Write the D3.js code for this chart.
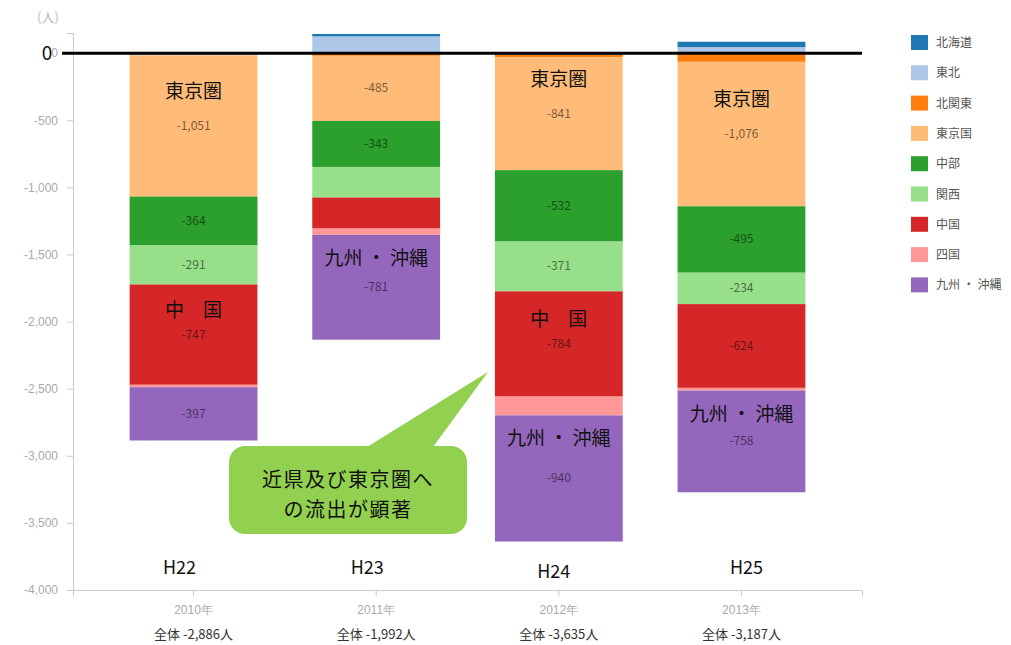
<!DOCTYPE html>
<html>
<head>
<meta charset="utf-8">
<script src="https://cdn.jsdelivr.net/npm/d3@7"></script>
<style>
  body { margin: 0; background: #fff; }
  svg { font-family: "Noto Sans CJK JP", "Noto Sans", sans-serif; }
  .axis path, .axis line { stroke: #ccc; }
  .axis text { fill: #aaa; font-size: 12px; }
</style>
</head>
<body>
<div id="chart"></div>
<script>
// data
const years = ["2010年", "2011年", "2012年", "2013年"];
const eras = ["H22", "H23", "H24", "H25"];
const totals = [-2886, -1992, -3635, -3187];
const regions = ["北海道", "東北", "北関東", "東京圏", "中部", "関西", "中国", "四国", "九州・沖縄"];
const hokkaido = [-10, 18, -12, 40];
const tohoku = [-6, 125, 4, 45];
const kitaKanto = [-2, -20, -19, -65];
const tokyoArea = [-1051, -485, -841, -1076];
const chubu = [-364, -343, -532, -495];
const kansai = [-291, -228, -371, -234];
const chugoku = [-747, -231, -784, -624];
const shikoku = [-18, -47, -140, -20];
const kyushu = [-397, -781, -940, -758];
const yTicks = [0, -500, -1000, -1500, -2000, -2500, -3000, -3500, -4000];
const hiddenLabels = [["2011年", "関西"], ["2011年", "中国"]];
// overlay notes: [year, region, text]
const notes = [
  ["2010年", "東京圏", "東京圏"], ["2012年", "東京圏", "東京圏"], ["2013年", "東京圏", "東京圏"],
  ["2010年", "中国", "中　国"], ["2012年", "中国", "中　国"],
  ["2011年", "九州・沖縄", "九州・沖縄"], ["2012年", "九州・沖縄", "九州・沖縄"], ["2013年", "九州・沖縄", "九州・沖縄"]
];
const calloutLines = ["近県及び東京圏へ", "の流出が顕著"];

const series = [hokkaido, tohoku, kitaKanto, tokyoArea, chubu, kansai, chugoku, shikoku, kyushu];
const colors = ["#1f77b4", "#aec7e8", "#ff7f0e", "#ffbb78", "#2ca02c", "#98df8a", "#d62728", "#ff9896", "#9467bd"];

let rows = years.map((y, i) => {
    let r = {year: y};
    regions.forEach((k, j) => r[k] = series[j][i]);
    return r;
});

let fmt = d => d3.format(",")(d).replace("\u2212", "-");

let width = 1011, height = 645;
let svg = d3.select("#chart").append("svg")
    .attr("width", width).attr("height", height);

let x = d3.scaleBand().domain(years).range([73, 862])
    .paddingInner(0.3).paddingOuter(0.31);
let y = d3.scaleLinear().domain([-4000, 150]).range([590, 33]);
let color = d3.scaleOrdinal().domain(regions).range(colors);

// negatives stack downward in key order, positives upward in reverse order
let negStack = d3.stack().keys(regions)
    .value((d, k) => Math.min(0, d[k]))
    .offset(d3.stackOffsetDiverging)(rows);
let posStack = d3.stack().keys(regions.slice().reverse())
    .value((d, k) => Math.max(0, d[k]))
    .offset(d3.stackOffsetDiverging)(rows);

// axes
svg.append("g").attr("class", "axis")
    .attr("transform", "translate(73,0)")
    .call(d3.axisLeft(y).tickValues(yTicks).tickSize(6).tickPadding(9).tickFormat(fmt));
svg.append("g").attr("class", "axis")
    .attr("transform", "translate(0,590)")
    .call(d3.axisBottom(x).tickSize(6).tickPadding(9));

svg.append("text").attr("x", 48).attr("y", 22)
    .attr("text-anchor", "middle").attr("fill", "#bbb").attr("font-size", 13)
    .text("(人)");

let bars = svg.append("g");
[negStack, posStack].forEach(stack => {
    stack.forEach(layer => {
        bars.append("g").attr("fill", color(layer.key))
            .selectAll("rect")
            .data(layer.filter(d => d[0] !== d[1]))
            .enter().append("rect")
            .attr("x", d => x(d.data.year))
            .attr("width", x.bandwidth())
            .attr("y", d => y(Math.max(d[0], d[1])))
            .attr("height", d => Math.abs(y(d[0]) - y(d[1])));
    });
});

// value labels
let segFor = (year, key) => {
    let layer = negStack.find(l => l.key === key);
    return layer.find(d => d.data.year === year);
};
let labelData = [];
negStack.forEach(layer => {
    layer.forEach(d => {
        let v = d.data[layer.key];
        let hidden = hiddenLabels.some(h => h[0] === d.data.year && h[1] === layer.key);
        if (v <= -200 && !hidden) labelData.push({year: d.data.year, key: layer.key, seg: d, v: v});
    });
});
svg.append("g").selectAll("text")
    .data(labelData).enter().append("text")
    .attr("x", d => x(d.year) + x.bandwidth() / 2)
    .attr("y", d => (y(d.seg[0]) + y(d.seg[1])) / 2 + 4)
    .attr("text-anchor", "middle")
    .attr("font-size", 12)
    .attr("fill", "#000").attr("fill-opacity", 0.55)
    .text(d => fmt(d.v));

// overlay notes
let noteShift = {"東京圏": -35, "中国": -25};
svg.append("g").selectAll("text")
    .data(notes).enter().append("text")
    .attr("x", d => x(d[0]) + x.bandwidth() / 2)
    .attr("y", d => {
        let s = segFor(d[0], d[1]);
        if (d[1] === "九州・沖縄") return y(s[1]) + 30;
        return (y(s[0]) + y(s[1])) / 2 + noteShift[d[1]] + 7;
    })
    .attr("text-anchor", "middle")
    .attr("font-size", 19)
    .attr("fill", "#111")
    .text(d => d[2].replace("・", " ・ "));

// zero line
svg.append("line")
    .attr("x1", 62).attr("x2", 862)
    .attr("y1", y(0)).attr("y2", y(0))
    .attr("stroke", "#000").attr("stroke-width", 3);
svg.append("text").attr("x", 47).attr("y", y(0) + 7)
    .attr("text-anchor", "middle").attr("font-size", 19).attr("fill", "#111")
    .text("0");

// era labels and totals
let xc = d => x(d) + x.bandwidth() / 2;
let eraShift = [-14, -9, -5, 5];
svg.append("g").selectAll("text")
    .data(eras).enter().append("text")
    .attr("x", (d, i) => xc(years[i]) + eraShift[i])
    .attr("y", (d, i) => i === 2 ? 578 : 574)
    .attr("text-anchor", "middle").attr("font-size", 18).attr("fill", "#111")
    .text(d => d);
svg.append("g").selectAll("text")
    .data(totals).enter().append("text")
    .attr("x", (d, i) => xc(years[i]))
    .attr("y", 639)
    .attr("text-anchor", "middle").attr("font-size", 13).attr("fill", "#333")
    .text(d => "全体 " + fmt(d) + "人");

// callout
let callout = svg.append("g");
callout.append("path")
    .attr("d", "M367,447 L488,372 L433,447 Z")
    .attr("fill", "#92d050");
callout.append("rect")
    .attr("x", 229).attr("y", 446).attr("width", 238).attr("height", 88)
    .attr("rx", 16).attr("fill", "#92d050");
callout.selectAll("text.c")
    .data(calloutLines).enter().append("text")
    .attr("class", "c")
    .attr("x", 348).attr("y", (d, i) => 487 + i * 30)
    .attr("text-anchor", "middle").attr("font-size", 20)
    .attr("letter-spacing", 1.5).attr("fill", "#111")
    .text(d => d);

// legend
let legend = svg.append("g").selectAll("g")
    .data(regions).enter().append("g")
    .attr("transform", (d, i) => "translate(911," + (35 + i * 30.3) + ")");
legend.append("rect").attr("width", 17).attr("height", 15)
    .attr("fill", d => color(d));
legend.append("text").attr("x", 25).attr("y", 12)
    .attr("font-size", 12).attr("fill", "#555")
    .text(d => d === "東京圏" ? "東京国" : d.replace("・", " ・ "));
</script>
</body>
</html>
